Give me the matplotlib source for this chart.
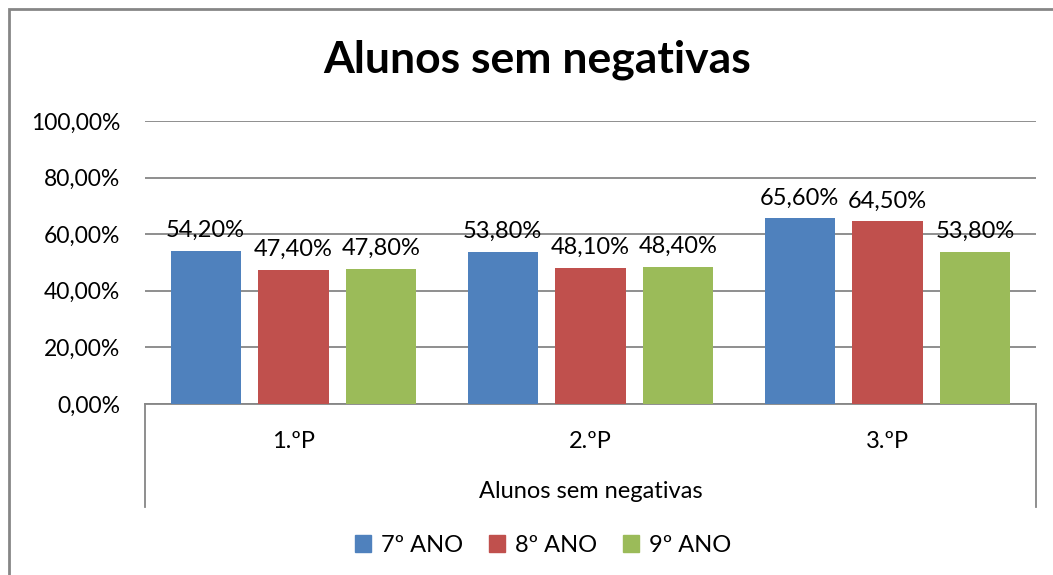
import numpy as np
import matplotlib
matplotlib.use("Agg")
import matplotlib.pyplot as plt
from matplotlib.patches import Rectangle

# dados
periodos = ["1.ºP", "2.ºP", "3.ºP"]
series = ["7º ANO", "8º ANO", "9º ANO"]
ano7 = [54.2, 53.8, 65.6]
ano8 = [47.4, 48.1, 64.5]
ano9 = [47.8, 48.4, 53.8]
grupo = "Alunos sem negativas"
titulo = "Alunos sem negativas"

cores = ["#4F81BD", "#C0504D", "#9BBB59"]
plt.rcParams['font.family'] = ['Lato', 'DejaVu Sans']

fig = plt.figure(figsize=(10.53, 5.75), dpi=100)
ax = fig.add_axes([145 / 1053, 1 - 404 / 575, 891 / 1053, 283 / 575])

x = np.arange(len(periodos))
w = 0.236
step = 0.296
for i, (vals, cor) in enumerate(zip([ano7, ano8, ano9], cores)):
    pos = x + (i - 1) * step
    ax.bar(pos, vals, width=w, color=cor, label=series[i], zorder=3)
    for p, v in zip(pos, vals):
        ax.annotate(f"{v:.2f}%".replace(".", ","), (p, v), xytext=(0, 7),
                    textcoords="offset points", ha="center", va="bottom",
                    fontsize=17, color="#000000")

ax.set_xlim(-0.5, 2.5)
ax.set_ylim(0, 100)
ax.set_yticks(np.arange(0, 101, 20))
ax.set_yticklabels([f"{t:.2f}%".replace(".", ",") for t in np.arange(0, 101, 20)],
                   fontsize=16.5)
ax.tick_params(axis="y", length=0, pad=18)
ax.set_xticks([])
ax.grid(axis="y", color="#868686", linewidth=1.3, zorder=0)
for s in ["top", "right", "left"]:
    ax.spines[s].set_visible(False)
ax.spines["bottom"].set_color("#868686")
ax.spines["bottom"].set_linewidth(1.3)

# eixo de categorias em dois níveis
for xi, p in zip(x, periodos):
    ax.text(xi, -37 / 283, p, transform=ax.get_xaxis_transform(), ha="center",
            va="center", fontsize=17)
ax.text(0.5, -87 / 283, grupo, transform=ax.transAxes, ha="center",
        va="center", fontsize=17)
for xa in [0, 1]:
    ax.plot([xa, xa], [0, -103 / 283], transform=ax.transAxes, color="#868686",
            linewidth=1.3, clip_on=False)

fig.text(537 / 1053, 1 - 60 / 575, titulo, ha="center", va="center",
         fontsize=32, fontweight="bold")

# legenda
handles = [Rectangle((0, 0), 1, 1, color=c) for c in cores]
fig.legend(handles, series, loc="center", bbox_to_anchor=(543 / 1053, 1 - 545 / 575),
           ncol=3, frameon=False, fontsize=17, handlelength=0.7, handleheight=0.7,
           columnspacing=1.1, handletextpad=0.4)

# moldura do gráfico
fig.patches.append(Rectangle((9 / 1053, -0.2), 1.2, 1.2 - 9 / 575,
                             transform=fig.transFigure, fill=False,
                             edgecolor="#868686", linewidth=2))

fig.savefig("out.png", dpi=100)
